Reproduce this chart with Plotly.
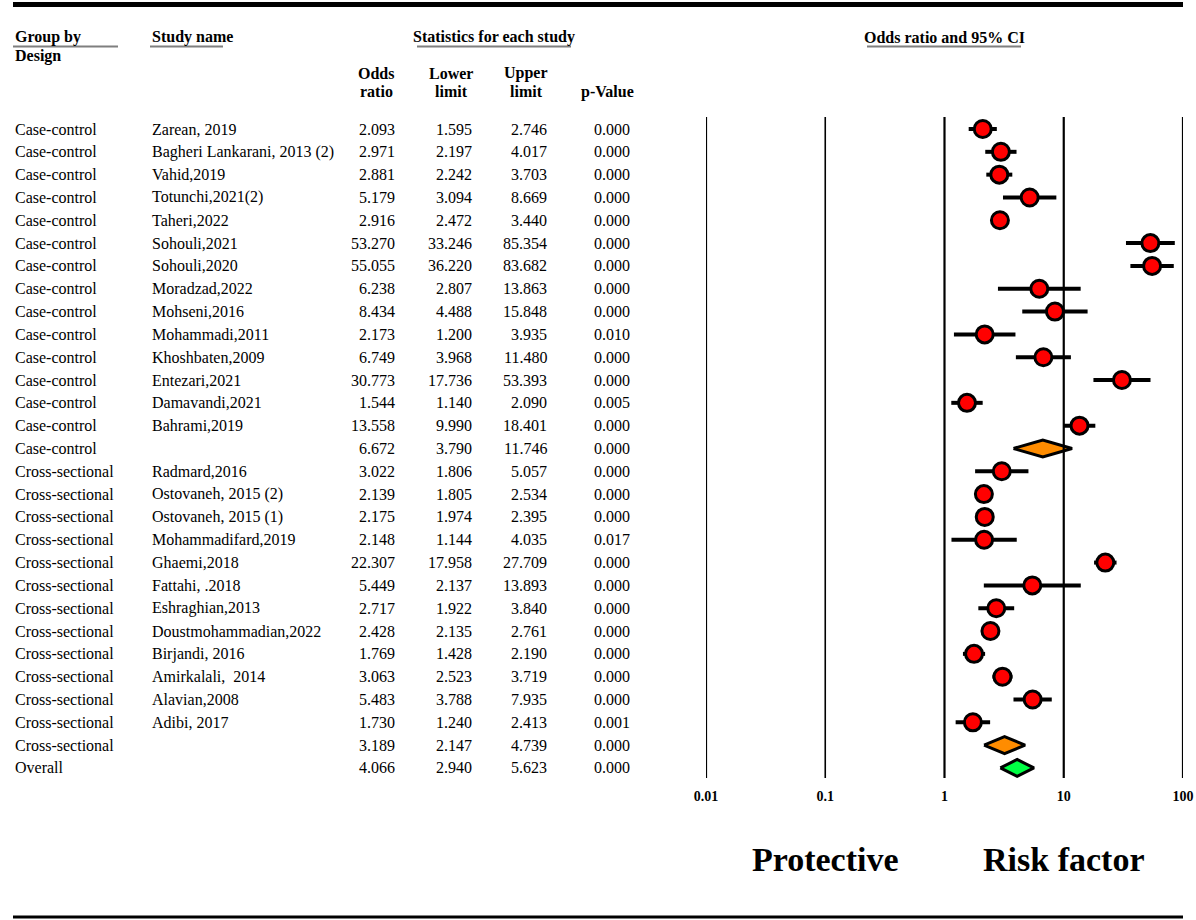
import plotly.graph_objects as go

# ---------------- data ----------------
groups = ["Case-control"] * 15 + ["Cross-sectional"] * 13 + ["Overall"]
studies = [
    "Zarean, 2019", "Bagheri Lankarani, 2013 (2)", "Vahid,2019", "Totunchi,2021(2)",
    "Taheri,2022", "Sohouli,2021", "Sohouli,2020", "Moradzad,2022", "Mohseni,2016",
    "Mohammadi,2011", "Khoshbaten,2009", "Entezari,2021", "Damavandi,2021",
    "Bahrami,2019", "",
    "Radmard,2016", "Ostovaneh, 2015 (2)", "Ostovaneh, 2015 (1)", "Mohammadifard,2019",
    "Ghaemi,2018", "Fattahi, .2018", "Eshraghian,2013", "Doustmohammadian,2022",
    "Birjandi, 2016", "Amirkalali,\u00a0 2014", "Alavian,2008", "Adibi, 2017", "",
    "",
]
odds = [2.093, 2.971, 2.881, 5.179, 2.916, 53.270, 55.055, 6.238, 8.434, 2.173,
        6.749, 30.773, 1.544, 13.558, 6.672,
        3.022, 2.139, 2.175, 2.148, 22.307, 5.449, 2.717, 2.428, 1.769, 3.063,
        5.483, 1.730, 3.189, 4.066]
lower = [1.595, 2.197, 2.242, 3.094, 2.472, 33.246, 36.220, 2.807, 4.488, 1.200,
         3.968, 17.736, 1.140, 9.990, 3.790,
         1.806, 1.805, 1.974, 1.144, 17.958, 2.137, 1.922, 2.135, 1.428, 2.523,
         3.788, 1.240, 2.147, 2.940]
upper = [2.746, 4.017, 3.703, 8.669, 3.440, 85.354, 83.682, 13.863, 15.848, 3.935,
         11.480, 53.393, 2.090, 18.401, 11.746,
         5.057, 2.534, 2.395, 4.035, 27.709, 13.893, 3.840, 2.761, 2.190, 3.719,
         7.935, 2.413, 4.739, 5.623]
pvals = [0.000, 0.000, 0.000, 0.000, 0.000, 0.000, 0.000, 0.000, 0.000, 0.010,
         0.000, 0.000, 0.005, 0.000, 0.000,
         0.000, 0.000, 0.000, 0.017, 0.000, 0.000, 0.000, 0.000, 0.000, 0.000,
         0.000, 0.001, 0.000, 0.000]
kinds = ["study"] * 14 + ["subgroup"] + ["study"] * 12 + ["subgroup", "overall"]
tick_vals = [0.01, 0.1, 1, 10, 100]
tick_text = ["0.01", "0.1", "1", "10", "100"]
side_labels = ["Protective", "Risk factor"]
side_pos = [0.1, 10]

# ---------------- layout helpers ----------------
W, H = 1196, 920
ROW0, ROWSTEP = 129.0, 22.82
FONT = "Liberation Serif, Times New Roman, serif"


def row_of(py):
    return (py - ROW0) / ROWSTEP


def px(x):
    return x / W


def py_paper(y):
    return 1 - y / H


fig = go.Figure()

rows = list(range(len(odds)))
st_rows = [r for r in rows if kinds[r] == "study"]

# CI lines + red circles for individual studies
fig.add_trace(go.Scatter(
    x=[odds[r] for r in st_rows], y=st_rows, mode="markers",
    error_x=dict(type="data", symmetric=False,
                 array=[upper[r] - odds[r] for r in st_rows],
                 arrayminus=[odds[r] - lower[r] for r in st_rows],
                 thickness=4, width=0, color="black"),
    marker=dict(size=17, color="#ff0000", line=dict(color="black", width=3)),
    hoverinfo="skip", showlegend=False, cliponaxis=False,
))

# diamonds for pooled estimates
HALF = 0.37
for r in rows:
    if kinds[r] == "study":
        continue
    col = "#ff8c00" if kinds[r] == "subgroup" else "#00ff44"
    fig.add_trace(go.Scatter(
        x=[lower[r], odds[r], upper[r], odds[r], lower[r]],
        y=[r, r - HALF, r, r + HALF, r],
        mode="lines", fill="toself", fillcolor=col,
        line=dict(color="black", width=3), hoverinfo="skip", showlegend=False,
    ))

# tick labels and side labels through the log axis
fig.add_trace(go.Scatter(
    x=tick_vals, y=[row_of(797)] * len(tick_vals), mode="text",
    text=["<b>%s</b>" % t for t in tick_text],
    textfont=dict(family=FONT, size=14, color="black"),
    hoverinfo="skip", showlegend=False, cliponaxis=False,
))
fig.add_trace(go.Scatter(
    x=side_pos, y=[row_of(862)] * 2, mode="text",
    text=["<b>%s</b>" % t for t in side_labels],
    textfont=dict(family=FONT, size=34, color="black"),
    hoverinfo="skip", showlegend=False, cliponaxis=False,
))

shapes = []
# vertical reference lines
for v in tick_vals:
    shapes.append(dict(type="line", xref="x", yref="y", x0=v, x1=v,
                       y0=row_of(117), y1=row_of(778),
                       line=dict(color="black", width=1.6 if v == 0.1 else 2.2)))
# top / bottom rules
shapes.append(dict(type="line", xref="paper", yref="paper", x0=px(13), x1=px(1183),
                   y0=py_paper(4.5), y1=py_paper(4.5), line=dict(color="black", width=5)))
shapes.append(dict(type="line", xref="paper", yref="paper", x0=px(13), x1=px(1183),
                   y0=py_paper(917), y1=py_paper(917), line=dict(color="black", width=3)))
# header underlines
for x0, x1 in [(13, 118), (150, 223), (417, 571), (867, 1021)]:
    shapes.append(dict(type="line", xref="paper", yref="paper", x0=px(x0), x1=px(x1),
                       y0=py_paper(46.5), y1=py_paper(46.5), line=dict(color="#7f7f7f", width=2)))

ann = []


def add_text(text, x, y, anchor="left", size=16, bold=False, yref="y"):
    t = "<b>%s</b>" % text if bold else text
    ann.append(dict(text=t, x=px(x), xref="paper", y=y, yref=yref, xanchor=anchor,
                    yanchor="middle", showarrow=False,
                    font=dict(family=FONT, size=size, color="black")))


# headers
add_text("Group by", 13, py_paper(37), bold=True, yref="paper")
add_text("Design", 13, py_paper(56), bold=True, yref="paper")
add_text("Study name", 150, py_paper(37), bold=True, yref="paper")
add_text("Statistics for each study", 494, py_paper(37), anchor="center", bold=True, yref="paper")
add_text("Odds ratio and 95% CI", 944, py_paper(37), anchor="center", bold=True, yref="paper")
add_text("Odds", 376, py_paper(73), anchor="center", bold=True, yref="paper")
add_text("ratio", 376, py_paper(92), anchor="center", bold=True, yref="paper")
add_text("Lower", 451, py_paper(73), anchor="center", bold=True, yref="paper")
add_text("limit", 451, py_paper(92), anchor="center", bold=True, yref="paper")
add_text("Upper", 526, py_paper(73), anchor="center", bold=True, yref="paper")
add_text("limit", 526, py_paper(92), anchor="center", bold=True, yref="paper")
add_text("p-Value", 607, py_paper(92), anchor="center", bold=True, yref="paper")

# table rows
for r in rows:
    add_text(groups[r], 13, r)
    if studies[r]:
        add_text(studies[r], 150, r)
    add_text("%.3f" % odds[r], 397, r, anchor="right")
    add_text("%.3f" % lower[r], 474, r, anchor="right")
    add_text("%.3f" % upper[r], 549, r, anchor="right")
    add_text("%.3f" % pvals[r], 632, r, anchor="right")

fig.update_layout(
    width=W, height=H, margin=dict(l=0, r=0, t=0, b=0),
    paper_bgcolor="white", plot_bgcolor="white",
    xaxis=dict(type="log", range=[-2, 2], domain=[px(706), px(1183)],
               showgrid=False, zeroline=False, showticklabels=False, ticks="",
               showline=False, fixedrange=True),
    yaxis=dict(range=[row_of(H), row_of(0)], domain=[0, 1], showgrid=False,
               zeroline=False, showticklabels=False, ticks="", showline=False,
               fixedrange=True),
    shapes=shapes, annotations=ann, showlegend=False,
)

fig.write_html("out.html", config={"displayModeBar": False},
               post_script="document.body.style.margin='0px';document.body.style.overflow='hidden';")
